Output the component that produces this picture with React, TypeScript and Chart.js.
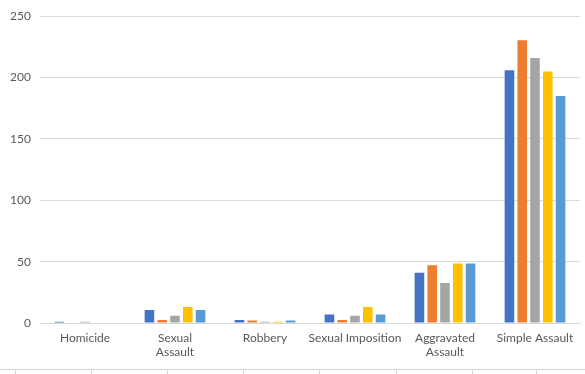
import React, { useEffect, useRef } from "react";
import { Chart, registerables } from "chart.js";

Chart.register(...registerables);

const categories: (string | string[])[] = [
  "Homicide",
  ["Sexual", "Assault"],
  "Robbery",
  "Sexual Imposition",
  ["Aggravated", "Assault"],
  "Simple Assault",
];

const series1 = [1, 10.5, 2.5, 7, 41, 206];
const series2 = [0, 2.5, 2, 2.5, 47, 230.5];
const series3 = [1, 6, 1, 6, 32.5, 216];
const series4 = [0, 13, 1, 13, 48.5, 205];
const series5 = [0, 10.5, 2, 7, 48.5, 185];

const seriesNames = ["Series1", "Series2", "Series3", "Series4", "Series5"];
const seriesColors = ["#4472C4", "#ED7D31", "#A5A5A5", "#FFC000", "#5B9BD5"];

const yTicks = [0, 50, 100, 150, 200, 250];

// spreadsheet cell borders visible under the chart
const sheetColumnEdges = [15, 91, 167, 243, 319, 396, 472, 536];

const sheetPlugin = {
  id: "sheetLines",
  afterDraw(chart: any) {
    const ctx = chart.ctx;
    ctx.save();
    ctx.strokeStyle = "#D4D4D4";
    ctx.lineWidth = 1;
    ctx.beginPath();
    ctx.moveTo(0, 369.5);
    ctx.lineTo(chart.width, 369.5);
    sheetColumnEdges.forEach((x) => {
      ctx.moveTo(x + 0.5, 369.5);
      ctx.lineTo(x + 0.5, chart.height);
    });
    ctx.stroke();
    ctx.restore();
  },
};

export default function App() {
  const ref = useRef<HTMLCanvasElement | null>(null);
  useEffect(() => {
    document.body.style.margin = "0";
    const all = [series1, series2, series3, series4, series5];
    const chart = new Chart(ref.current!, {
      type: "bar",
      data: {
        labels: categories,
        datasets: all.map((d, i) => ({
          label: seriesNames[i],
          data: d,
          backgroundColor: seriesColors[i],
          borderWidth: 0,
          categoryPercentage: 0.71,
          barPercentage: 0.75,
        })),
      },
      options: {
        animation: false,
        responsive: false,
        maintainAspectRatio: false,
        layout: { padding: { top: 14, right: 5, left: 0, bottom: 0 } },
        plugins: {
          legend: { display: false },
          tooltip: { enabled: false },
        },
        scales: {
          x: {
            grid: { display: false, drawTicks: false },
            border: { display: true, color: "#D9D9D9" },
            ticks: {
              color: "#595959",
              font: { family: "Lato", size: 12 },
              padding: 8,
              maxRotation: 0,
              autoSkip: false,
            },
            afterFit: (s: any) => {
              s.height = 51;
            },
          },
          y: {
            min: 0,
            max: 250,
            afterBuildTicks: (s: any) => {
              s.ticks = yTicks.map((v) => ({ value: v }));
            },
            grid: { color: "#D9D9D9", drawTicks: false },
            border: { display: false },
            ticks: {
              color: "#595959",
              font: { family: "Lato", size: 12 },
              padding: 9,
            },
            afterFit: (s: any) => {
              s.width = 40;
            },
          },
        },
      },
      plugins: [sheetPlugin],
    });
    return () => chart.destroy();
  }, []);
  return <canvas ref={ref} width={585} height={374} style={{ display: "block" }} />;
}
